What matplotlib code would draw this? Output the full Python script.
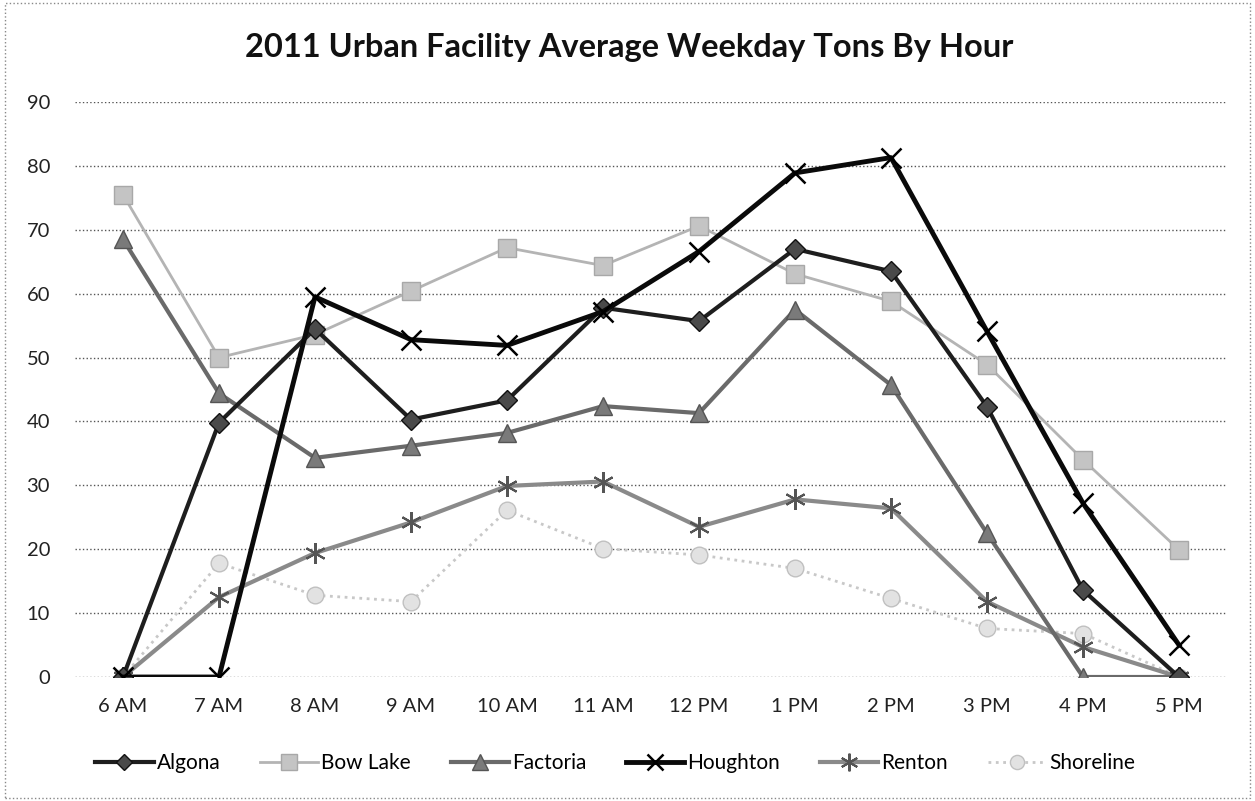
import numpy as np
import matplotlib
matplotlib.use("Agg")
import matplotlib.pyplot as plt
from matplotlib.patches import Rectangle

plt.rcParams['font.family'] = ['Lato', 'DejaVu Sans']

# ============================================================================
# ДАННЫЕ
# ============================================================================
hours = ['6 AM', '7 AM', '8 AM', '9 AM', '10 AM', '11 AM',
         '12 PM', '1 PM', '2 PM', '3 PM', '4 PM', '5 PM']

algona = [0, 39.8, 54.5, 40.3, 43.3, 57.8, 55.7, 67.0, 63.5, 42.3, 13.6, 0]
bow_lake = [75.5, 50.0, 53.6, 60.4, 67.2, 64.4, 70.6, 63.1, 58.8, 48.9, 34.0, 19.9]
factoria = [68.5, 44.4, 34.3, 36.2, 38.2, 42.4, 41.3, 57.5, 45.7, 22.5, 0, 0]
houghton = [0, 0, 59.5, 52.8, 51.9, 57.2, 66.6, 78.9, 81.3, 54.1, 27.2, 5.0]
renton = [0, 12.5, 19.4, 24.2, 29.9, 30.6, 23.5, 27.8, 26.4, 11.8, 4.7, 0]
shoreline = [0, 17.8, 12.8, 11.8, 26.1, 20.1, 19.1, 17.0, 12.3, 7.6, 6.8, 0]

y_ticks = [0, 10, 20, 30, 40, 50, 60, 70, 80, 90]

# ============================================================================
# ГРАФИК
# ============================================================================
fig = plt.figure(figsize=(12.55, 8.01), dpi=100)
ax = fig.add_axes([75 / 1255, 1 - 677 / 801, (1227 - 75) / 1255, (677 - 102) / 801])

x = np.arange(len(hours))

ax.plot(x, bow_lake, '-', color='#b4b4b4', lw=2, marker='s', ms=13,
        mfc='#c4c4c4', mec='#a8a8a8', label='Bow Lake', zorder=3)
ax.plot(x, shoreline, ':', color='#c8c8c8', lw=2, marker='o', ms=12,
        mfc='#e2e2e2', mec='#c0c0c0', label='Shoreline', zorder=3)
ax.plot(x, renton, '-', color='#8a8a8a', lw=3, marker=(6, 2, 0), ms=15,
        mec='#555555', mew=1.5, label='Renton', zorder=4)
ax.plot(x, factoria, '-', color='#6a6a6a', lw=3, marker='^', ms=13,
        mfc='#7a7a7a', mec='#555555', label='Factoria', zorder=4)
ax.plot(x, algona, '-', color='#1e1e1e', lw=3, marker='D', ms=10,
        mfc='#4a4a4a', mec='#111111', label='Algona', zorder=5)
ax.plot(x, houghton, '-', color='#0a0a0a', lw=3.5, marker='x', ms=14,
        mec='#000000', mew=1.8, label='Houghton', zorder=5)

ax.set_xlim(-0.5, len(hours) - 0.5)
ax.set_ylim(0, 90)
ax.set_xticks(x)
ax.set_xticklabels(hours, fontsize=14.5, color='#222222')
ax.set_yticks(y_ticks)
ax.set_yticklabels([str(v) for v in y_ticks], fontsize=14.5, color='#222222')
ax.tick_params(length=0)
ax.tick_params(axis='x', pad=15)
ax.tick_params(axis='y', pad=18)
ax.grid(axis='y', linestyle=':', color='#555555', lw=1)
ax.set_axisbelow(True)
for s in ax.spines.values():
    s.set_visible(False)

fig.text(629 / 1255, 1 - 48 / 801, '2011 Urban Facility Average Weekday Tons By Hour',
         fontsize=23.5, fontweight='bold', ha='center', va='center', color='#111111')

handles, labels = ax.get_legend_handles_labels()
order = ['Algona', 'Bow Lake', 'Factoria', 'Houghton', 'Renton', 'Shoreline']
hl = [handles[labels.index(n)] for n in order]
fig.legend(hl, order, loc='center', bbox_to_anchor=(615 / 1255, 1 - 763 / 801),
           ncol=6, frameon=False, fontsize=15, handlelength=2.8,
           columnspacing=1.9, handletextpad=0.15, markerscale=0.85)

fig.add_artist(Rectangle((0.004, 0.004), 0.992, 0.992, transform=fig.transFigure,
                         fill=False, ec='#888888', lw=1, ls=':'))

plt.savefig('out.png', dpi=100)
